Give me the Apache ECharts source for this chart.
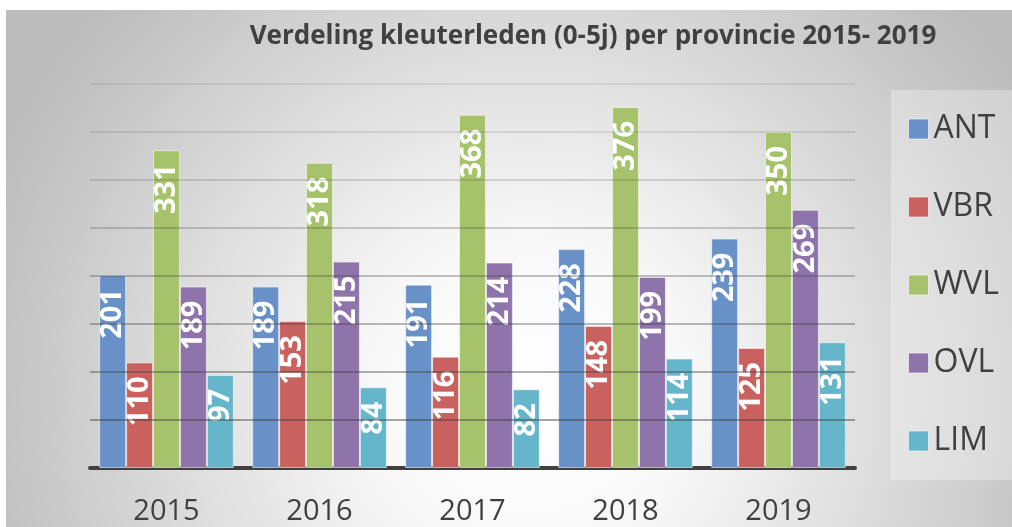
<!DOCTYPE html>
<html>
<head>
<meta charset="utf-8">
<script src="https://cdn.jsdelivr.net/npm/echarts@6/dist/echarts.min.js"></script>
<style>
  html, body { margin: 0; padding: 0; background: #ffffff; }
  #main { width: 1012px; height: 527px; }
</style>
</head>
<body>
<div id="main"></div>
<script>
// jaren en provincies
const years = ['2015', '2016', '2017', '2018', '2019'];
const provinces = ['ANT', 'VBR', 'WVL', 'OVL', 'LIM'];
const colors = ['#6791c7', '#c9625f', '#a6c36b', '#8e74ab', '#65b5cb'];

// aantal kleuterleden per provincie (per jaar)
const ANT = [201, 189, 191, 228, 239];
const VBR = [110, 153, 116, 148, 125];
const WVL = [331, 318, 368, 376, 350];
const OVL = [189, 215, 214, 199, 269];
const LIM = [97, 84, 82, 114, 131];
const values = [ANT, VBR, WVL, OVL, LIM];

const myChart = echarts.init(document.getElementById('main'));

const series = provinces.map((name, i) => ({
  name: name,
  type: 'bar',
  data: values[i],
  barGap: '0%',
  barCategoryGap: '12%',
  itemStyle: {
    color: colors[i],
    borderColor: 'rgba(255,255,255,0.55)',
    borderWidth: 1
  },
  label: {
    show: true,
    position: 'insideTop',
    distance: 14,
    rotate: 90,
    align: 'right',
    verticalAlign: 'middle',
    color: '#ffffff',
    fontFamily: 'Open Sans',
    fontWeight: 'bold',
    fontSize: 29
  }
}));

myChart.setOption({
  animation: false,
  graphic: [{
    type: 'rect',
    z: -10,
    silent: true,
    shape: { x: 6, y: 10, width: 1006, height: 517 },
    style: {
      fill: {
        type: 'radial', x: 0.52, y: 0.75, r: 1.12,
        colorStops: [
          { offset: 0, color: '#ffffff' },
          { offset: 0.28, color: '#f8f8f8' },
          { offset: 1, color: '#bcbcbc' }
        ]
      }
    }
  }],
  title: {
    text: 'Verdeling kleuterleden (0-5j) per provincie 2015- 2019',
    left: 588,
    top: 19,
    textAlign: 'center',
    textStyle: {
      fontFamily: 'Open Sans',
      fontWeight: 'bold',
      fontSize: 26,
      color: '#404040'
    }
  },
  legend: {
    data: provinces,
    orient: 'vertical',
    left: 891,
    top: 90,
    padding: [23, 20, 23, 17],
    itemGap: 46,
    itemWidth: 20,
    itemHeight: 20,
    itemTextGap: 10,
    icon: 'rect',
    backgroundColor: 'rgba(255,255,255,0.3)',
    itemStyle: { borderColor: 'rgba(255,255,255,0.6)', borderWidth: 1 },
    textStyle: {
      fontFamily: 'Open Sans',
      fontSize: 32,
      lineHeight: 31,
      color: '#404040'
    }
  },
  grid: { left: 90, right: 157, top: 84, bottom: 59 },
  xAxis: {
    type: 'category',
    data: years,
    axisLine: { lineStyle: { color: '#404040', width: 4 } },
    axisTick: { show: false },
    axisLabel: {
      margin: 29,
      fontFamily: 'Open Sans',
      fontSize: 29,
      color: '#404040'
    }
  },
  yAxis: {
    type: 'value',
    min: 0,
    max: 400,
    interval: 50,
    z: 3,
    axisLabel: { show: false },
    axisLine: { show: false },
    axisTick: { show: false },
    splitLine: {
      lineStyle: {
        width: 2,
        color: [
          'rgba(0,0,0,0)',
          'rgba(60,60,60,0.45)',
          'rgba(60,60,60,0.40)',
          'rgba(60,60,60,0.35)',
          'rgba(60,60,60,0.30)',
          'rgba(60,60,60,0.24)',
          'rgba(60,60,60,0.18)',
          'rgba(60,60,60,0.13)',
          'rgba(60,60,60,0.09)'
        ]
      }
    }
  },
  series: series
});
</script>
</body>
</html>
